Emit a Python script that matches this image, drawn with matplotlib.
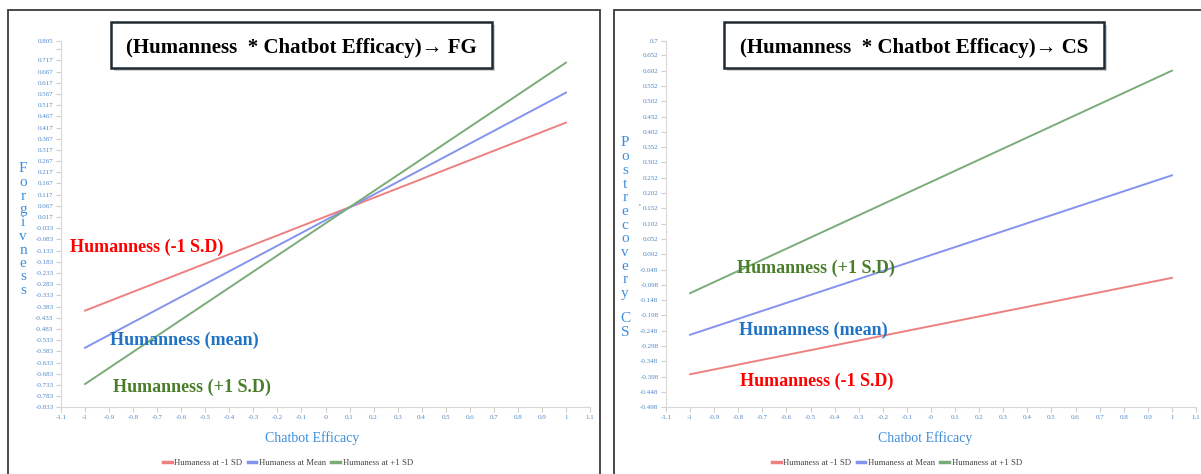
import numpy as np
import matplotlib
matplotlib.use("Agg")
import matplotlib.pyplot as plt
from matplotlib.patches import Rectangle

# データ (x = -1, 1 の両端の予測値)
x_ends = [-1, 1]
fg_low = [-0.401, 0.439]
fg_mean = [-0.567, 0.573]
fg_high = [-0.729, 0.707]
cs_low = [-0.390, -0.075]
cs_mean = [-0.261, 0.260]
cs_high = [-0.125, 0.602]

series_names = ["Humaness at -1 SD", "Humaness at Mean", "Humaness at +1 SD"]
line_colors = ["#ef8080", "#8393ee", "#7aac78"]

x_ticks = [-1.1, -1, -0.9, -0.8, -0.7, -0.6, -0.5, -0.4, -0.3, -0.2, -0.1, 0,
           0.1, 0.2, 0.3, 0.4, 0.5, 0.6, 0.7, 0.8, 0.9, 1, 1.1]
x_labels = ["-1.1", "-1", "-0.9", "-0.8", "-0.7", "-0.6", "-0.5", "-0.4", "-0.3",
            "-0.2", "-0.1", "-0", "0.1", "0.2", "0.3", "0.4", "0.5", "0.6", "0.7",
            "0.8", "0.9", "1", "1.1"]

fg_yticks = [round(-0.833 + 0.05 * i, 3) for i in range(33)] + [0.805]
fg_ylabels = ["%g" % v for v in fg_yticks]
fg_ylabels[-2] = ""  # 0.767 は表示なし
cs_yticks = [round(-0.498 + 0.05 * i, 3) for i in range(24)] + [0.7]
cs_ylabels = ["%g" % v for v in cs_yticks]

W, H = 1201, 474
fig = plt.figure(figsize=(W / 100, H / 100), dpi=100)
fig.patch.set_facecolor("white")

def px(x, y):
    return x / W, 1 - y / H

tick_col = "#4f86c6"
lab_col = "#3f8ddb"
serif = ["Liberation Serif", "DejaVu Serif"]

# パネル枠
for x0, x1 in [(8, 600), (614, 1210)]:
    fig.patches.append(Rectangle(px(x0, 480), (x1 - x0) / W, 470 / H,
                                 transform=fig.transFigure, fill=False,
                                 edgecolor="#3a3a3a", linewidth=1.3))

def make_panel(left, right, ylim, yticks, ylabels, lows, means, highs, xlab_x, leg_x):
    x0, y0 = px(left, 407.3)
    ax = fig.add_axes([x0, y0, (right - left) / W, (407.3 - 40.7) / H])
    for vals, c in zip([lows, means, highs], line_colors):
        ax.plot(x_ends, vals, color=c, lw=1.4)
    ax.set_xlim(-1.1, 1.1)
    ax.set_ylim(*ylim)
    ax.set_xticks(x_ticks)
    ax.set_xticklabels(x_labels)
    ax.set_yticks(yticks)
    ax.set_yticklabels(ylabels)
    for s in ["top", "right"]:
        ax.spines[s].set_visible(False)
    for s in ["left", "bottom"]:
        ax.spines[s].set_color("#d8d8d8")
    ax.tick_params(length=3.5, color="#cfcfcf", labelsize=5, labelcolor=tick_col, pad=2)
    for t in ax.get_xticklabels() + ax.get_yticklabels():
        t.set_family(serif)
    leg = ax.legend(series_names, loc="center", bbox_to_anchor=px(leg_x, 463),
                    bbox_transform=fig.transFigure, ncol=3, frameon=False,
                    handlelength=1.0, handletextpad=0.3, columnspacing=0.6,
                    prop={"family": serif, "size": 6.3})
    for h in leg.get_lines():
        h.set_linewidth(2.5)
    for t in leg.get_texts():
        t.set_color("#444444")
    fig.text(*px(xlab_x, 438), "Chatbot Efficacy", ha="center", va="center",
             color=lab_col, fontsize=10, family=serif)
    return ax

ax1 = make_panel(61, 590, (-0.833, 0.805), fg_yticks, fg_ylabels,
                 fg_low, fg_mean, fg_high, 312, 288)
ax2 = make_panel(666, 1196, (-0.498, 0.7), cs_yticks, cs_ylabels,
                 cs_low, cs_mean, cs_high, 925, 897)

# タイトル枠
def title_box(x0, y0, x1, y1, text):
    fig.patches.append(Rectangle(px(x0 + 3, y1 + 3), (x1 - x0) / W, (y1 - y0) / H,
                                 transform=fig.transFigure, facecolor="#b0b0b0",
                                 edgecolor="none", alpha=0.6))
    fig.patches.append(Rectangle(px(x0, y1), (x1 - x0) / W, (y1 - y0) / H,
                                 transform=fig.transFigure, facecolor="white",
                                 edgecolor="#1d2a33", linewidth=1.8))
    fig.text(*px((x0 + x1) / 2, (y0 + y1) / 2 + 3), text, ha="center", va="center",
             fontsize=15, fontweight="bold", family=serif, color="black")

title_box(111, 22, 492, 68, "(Humanness  * Chatbot Efficacy)\u2192 FG")
title_box(724, 22, 1104, 68, "(Humanness  * Chatbot Efficacy)\u2192 CS")

# 縦書きラベル
def vertical_label(x, y_start, letters, step):
    y = y_start
    for ch in letters:
        if ch == " ":
            y += step * 0.8
            continue
        fig.text(*px(x, y), ch, ha="center", va="center", color=lab_col,
                 fontsize=11, family=serif)
        y += step

vertical_label(23, 169, "Forgivness", 13.5)
vertical_label(625, 143, "Postrecovery CS", 13.7)
fig.text(*px(639, 206), "'", ha="center", va="center", color="#555555", fontsize=5)

# 注釈
ann_size = 13
fig.text(*px(70, 247), "Humanness (-1 S.D)", color="#ff0000", fontsize=ann_size,
         fontweight="bold", family=serif, va="center")
fig.text(*px(110, 340), "Humanness (mean)", color="#1f73c4", fontsize=ann_size,
         fontweight="bold", family=serif, va="center")
fig.text(*px(113, 387), "Humanness (+1 S.D)", color="#4a7d2b", fontsize=ann_size,
         fontweight="bold", family=serif, va="center")
fig.text(*px(737, 268), "Humanness (+1 S.D)", color="#4a7d2b", fontsize=ann_size,
         fontweight="bold", family=serif, va="center")
fig.text(*px(739, 330), "Humanness (mean)", color="#1f73c4", fontsize=ann_size,
         fontweight="bold", family=serif, va="center")
fig.text(*px(740, 381), "Humanness (-1 S.D)", color="#ff0000", fontsize=ann_size,
         fontweight="bold", family=serif, va="center")

fig.savefig("out.png", dpi=100)
